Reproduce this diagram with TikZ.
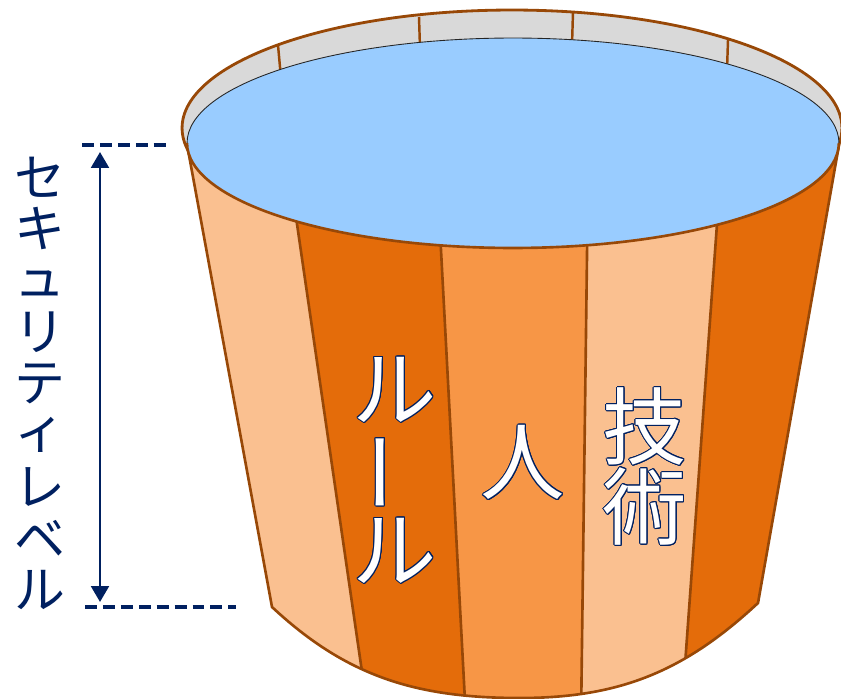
\documentclass[tikz,border=0pt]{standalone}
\usepackage{fontspec}
\usepackage[copies]{contour}
\usetikzlibrary{arrows.meta}
\setmainfont{Noto Sans CJK JP}
\definecolor{cN}{HTML}{002060}
\definecolor{cL}{HTML}{FAC090}
\definecolor{cO}{HTML}{E46C0A}
\definecolor{cM}{HTML}{F79646}
\definecolor{cB}{HTML}{984807}
\definecolor{cG}{HTML}{D9D9D9}
\definecolor{cW}{HTML}{99CCFF}
\contourlength{0.55pt}
\tikzset{
  stave/.style={draw=cB,line width=1.5pt,line join=round},
  rim/.style={draw=cB,line width=1.6pt,fill=cG},
  water/.style={draw=black!85,line width=0.5pt,fill=cW},
  levelarrow/.style={{Triangle[length=9pt,width=10pt]}-{Triangle[length=9pt,width=10pt]},
              cN,line width=1.7pt},
  guide/.style={cN,line width=1.8pt,dash pattern=on 6.8pt off 3.4pt},
  kana/.style={text=cN,font=\fontsize{29}{29}\selectfont,inner sep=0pt},
  word/.style={text=white,font=\fontsize{48}{48}\selectfont,inner sep=0pt},
}

\begin{document}
\begin{tikzpicture}[x=0.02cm,y=-0.02cm]
  \useasboundingbox (0,0) rectangle (841,699);
  % bucket body corners
  \coordinate (tl) at (184,128);
  \coordinate (bl) at (272,607);
  \coordinate (bm) at (520,698);
  \coordinate (br) at (758,603);
  \coordinate (tr) at (842,128);
  % staves, extended past the body
  \coordinate (t1) at (279,100); \coordinate (b1) at (369,720);
  \coordinate (t2) at (433,100); \coordinate (b2) at (466,720);
  \coordinate (t3) at (589,100); \coordinate (b3) at (581,720);
  \coordinate (t4) at (726,100); \coordinate (b4) at (681,720);
  \coordinate (t5) at (900,100); \coordinate (b5) at (900,720);
  \def\bodypath{(tl) -- (bl) .. controls (347,677) and (417,698) .. (bm)
    .. controls (620,698) and (685,671) .. (br) -- (tr) -- cycle}

  \fill[cL] \bodypath;
  \begin{scope}
    \clip \bodypath;
    \fill[cO] (t1) -- (t2) -- (b2) -- (b1) -- cycle;
    \fill[cM] (t2) -- (t3) -- (b3) -- (b2) -- cycle;
    \fill[cO] (t4) -- (t5) -- (b5) -- (b4) -- cycle;
    \foreach \i in {1,...,4}{\draw[stave] (t\i) -- (b\i);}
  \end{scope}
  \draw[stave] (tl) -- (bl) .. controls (347,677) and (417,698) .. (bm)
    .. controls (620,698) and (685,671) .. (br) -- (tr);

  % rim seen from above
  \draw[rim] (512,128) ellipse [x radius=6.6cm,y radius=2.36cm];
  \foreach \xa/\ya/\xb/\yb in {278/45/281/78,419/17/420/48,573/12/572/45,728/40/727/70}{
    \draw[cB,line width=1.4pt] (\xa,\ya) -- (\xb,\yb);
  }
  \draw[water] (513,143) ellipse [x radius=6.52cm,y radius=2.1cm];
  \draw[stave] (187,143) arc[start angle=180,end angle=360,x radius=6.52cm,y radius=2.1cm];

  % level marker
  \coordinate (g1a) at (82,145);  \coordinate (g1b) at (168,145);
  \coordinate (g2a) at (85,607);  \coordinate (g2b) at (236,607);
  \coordinate (atop) at (100,152); \coordinate (abot) at (100,602);
  \draw[guide] (g1a) -- (g1b);
  \draw[guide] (g2a) -- (g2b);
  \draw[levelarrow] (atop) -- (abot);
  \foreach \c/\y [count=\i] in {セ/177,キ/228,ュ/284,リ/332,テ/384,ィ/435,レ/487,ベ/539,ル/590}{
    \node[kana] (lv\i) at (40,\y) {\c};
  }

  % words on the staves
  \foreach \c/\x/\y/\r [count=\i] in {ル/395/390/0,ー/395/472/90,ル/395/551/0,
      人/523/463/0,技/645/427/0,術/645/507/0}{
    \node[word,rotate=\r] (w\i) at (\x,\y) {\contour{cN}{\c}};
  }
\end{tikzpicture}
\end{document}
